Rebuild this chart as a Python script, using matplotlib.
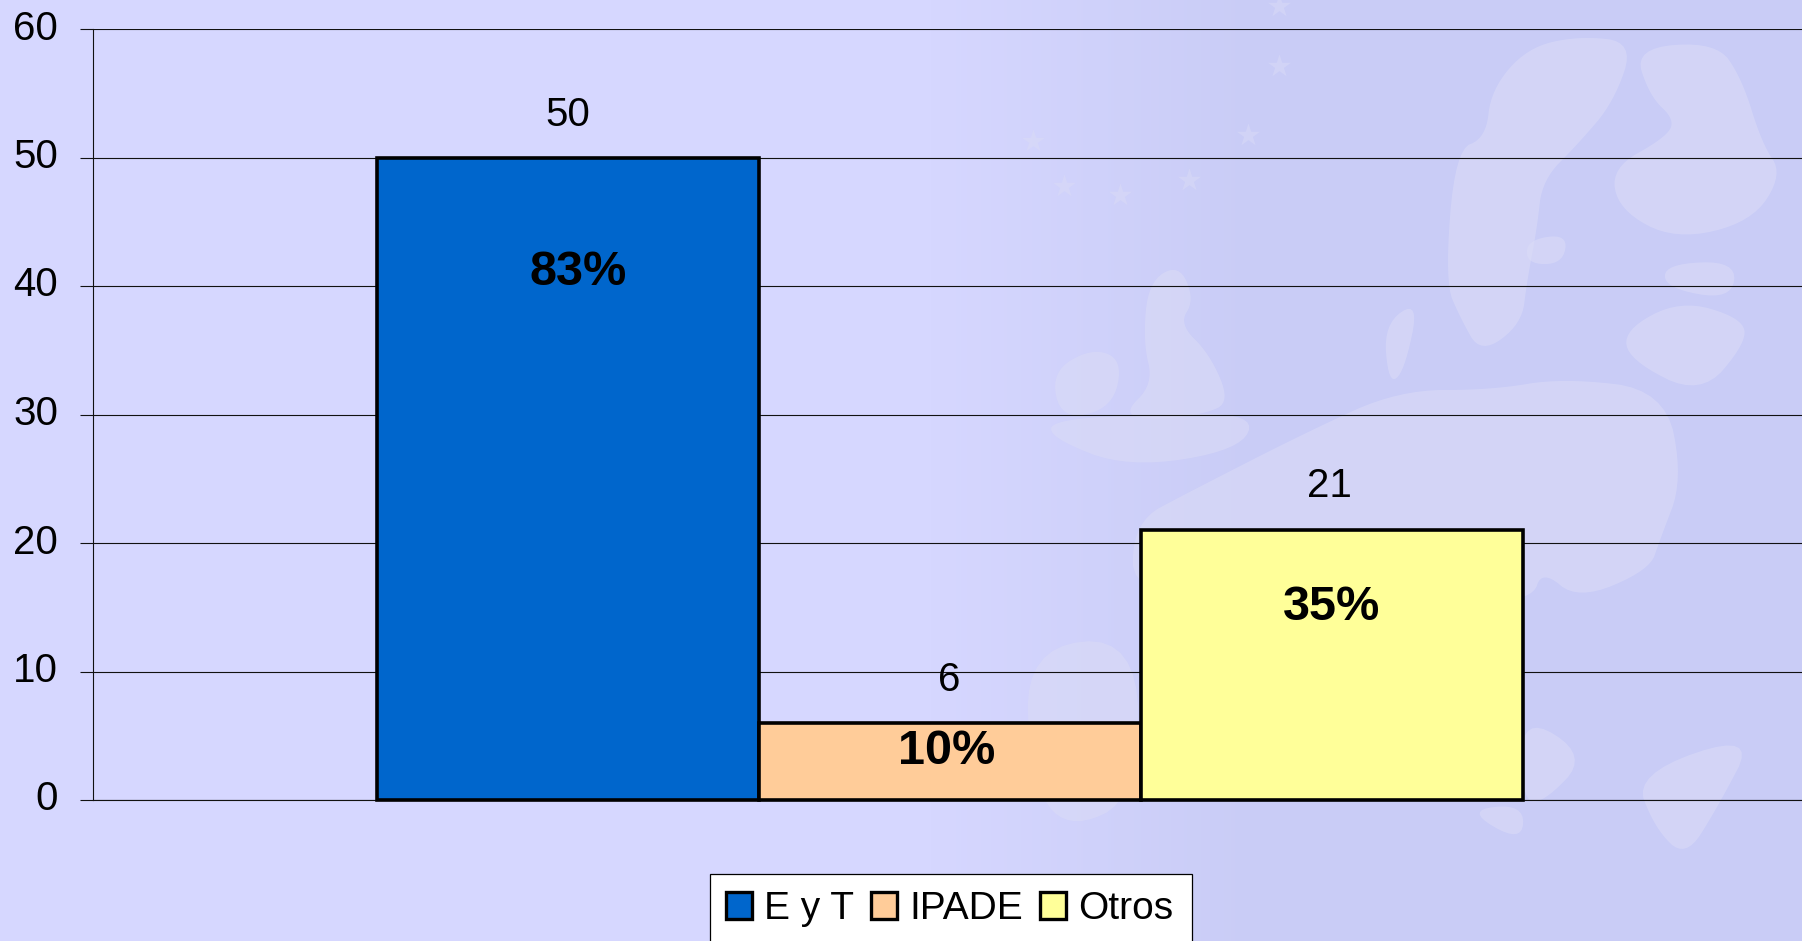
import numpy as np
import matplotlib
matplotlib.use("Agg")
import matplotlib.pyplot as plt
from matplotlib.patches import Rectangle, Patch
from matplotlib.transforms import Affine2D

# chart data
categories = ["E y T", "IPADE", "Otros"]
values = [50, 6, 21]
percents = ["83%", "10%", "35%"]
y_ticks = [0, 10, 20, 30, 40, 50, 60]
bar_colors = ["#0066CC", "#FFCC99", "#FFFF99"]

# label placement in pixels, relative to the top centre of each bar
value_offsets = [(0, 42), (-1, 43), (-3, 44)]
percent_offsets = [(10, -115), (-3, -29), (0, -77)]

land_shapes = [
    [(870, 470), (890, 250), (950, 230), (960, 150), (1030, 80), (1130, 60), (1240, 70), (1200, 170),
     (1130, 240), (1060, 300), (1050, 380), (1030, 470), (1020, 540), (940, 590), (900, 530)],
    [(1240, 80), (1400, 70), (1450, 130), (1490, 240), (1530, 290), (1470, 370), (1320, 400),
     (1210, 350), (1195, 280), (1300, 230), (1320, 200), (1270, 160)],
    [(290, 470), (350, 440), (380, 500), (350, 540), (410, 590), (450, 670), (400, 690), (300, 700),
     (240, 690), (300, 640), (280, 570)],
    [(100, 620), (180, 580), (240, 600), (220, 680), (120, 700)],
    [(100, 700), (300, 690), (500, 690), (470, 750), (250, 780), (100, 730)],
    [(260, 870), (370, 820), (600, 720), (780, 650), (960, 650), (1100, 630), (1300, 650), (1335, 800),
     (1290, 900), (1270, 950), (1130, 1000), (1060, 950), (1040, 1000), (900, 1000), (600, 1000), (260, 1000)],
    [(50, 1080), (270, 1060), (270, 1330), (130, 1385), (60, 1300)],
    [(1020, 1190), (1150, 1260), (1060, 1340), (1020, 1330)],
    [(1240, 1290), (1480, 1220), (1400, 1350), (1340, 1430), (1280, 1380)],
    [(910, 1350), (1025, 1340), (1020, 1405)],
    [(1220, 550), (1330, 500), (1450, 530), (1460, 570), (1370, 660), (1230, 600)],
    [(750, 540), (820, 500), (790, 620), (760, 640)],
    [(1030, 400), (1110, 390), (1100, 440), (1030, 440)],
    [(1300, 440), (1440, 435), (1430, 500), (1300, 480)],
]
star_points = [(545, 10), (545, 110), (485, 225), (125, 310), (235, 325), (370, 300), (65, 235)]


def crop_to_px(points):
    # the big crop came back with different x and y scales
    pts = np.array(points, dtype=float)
    return 1000 + pts[:, 0] * 0.5115, pts[:, 1] * 0.6


def smooth(x, y, rounds=3):
    # corner cutting so the coast looks less angular
    for _ in range(rounds):
        nx, ny = np.roll(x, -1), np.roll(y, -1)
        x = np.column_stack((0.75 * x + 0.25 * nx, 0.25 * x + 0.75 * nx)).ravel()
        y = np.column_stack((0.75 * y + 0.25 * ny, 0.25 * y + 0.75 * ny)).ravel()
    return x, y


plt.rcParams["font.family"] = ["Liberation Sans", "DejaVu Sans"]
W, H = 1802, 941
fig = plt.figure(figsize=(W / 100, H / 100), dpi=100)

# background
bg = fig.add_axes([0, 0, 1, 1])
bg.set_xlim(0, W)
bg.set_ylim(H, 0)
bg.axis("off")
xs = np.arange(W)
left_col, right_col = np.array([214, 215, 255]), np.array([201, 204, 246])
t = np.clip((xs - 930) / 330, 0, 1)
grad = left_col[None, :] * (1 - t[:, None]) + right_col[None, :] * t[:, None]
bg.imshow(grad[None, :, :] / 255, extent=(0, W, H, 0), aspect="auto", zorder=0)
for shape in land_shapes:
    lx, ly = smooth(*crop_to_px(shape))
    bg.fill(lx, ly, color="#DADBF6", alpha=0.6, lw=0, zorder=1)
sx, sy = crop_to_px(star_points)
bg.scatter(sx, sy, marker="*", s=300, color="#DADBF6", alpha=0.5, lw=0, zorder=1)
bg.set_xlim(0, W)
bg.set_ylim(H, 0)

# main axes, the right end runs off the picture like the gridlines do
ax_left, ax_right, ax_top, ax_bottom = 93, 1807, 29, 800
ax = fig.add_axes([ax_left / W, 1 - ax_bottom / H, (ax_right - ax_left) / W, (ax_bottom - ax_top) / H])
ax.patch.set_alpha(0)
bar_px = 382
x_pos = np.arange(len(values))
ax.set_xlim(1 - (950 - ax_left) / bar_px, 1 + (ax_right - 950) / bar_px)
ax.set_ylim(0, 60)

ax.set_axisbelow(True)
ax.yaxis.grid(True, color="#111111", lw=0.8)
ax.xaxis.set_visible(False)
for side in ["top", "right"]:
    ax.spines[side].set_visible(False)
for side in ["left", "bottom"]:
    ax.spines[side].set_linewidth(0.8)
    ax.spines[side].set_color("#111111")
ax.set_yticks(y_ticks)
ax.tick_params(axis="y", length=9.4, width=0.8, color="#111111", pad=15, labelsize=29)
for lab in ax.get_yticklabels():
    lab.set_transform(lab.get_transform() + Affine2D().translate(-1, 4.5))

bars = ax.bar(x_pos, values, width=1.0, color=bar_colors, edgecolor="black", linewidth=2.6, clip_on=False, zorder=3)

for i, v in enumerate(values):
    ax.annotate(str(v), (x_pos[i], v), xytext=value_offsets[i], textcoords="offset pixels",
                ha="center", va="center", fontsize=29, zorder=5)
    ax.annotate(percents[i], (x_pos[i], v), xytext=percent_offsets[i], textcoords="offset pixels",
                ha="center", va="center", fontsize=35, fontweight="bold", zorder=5)

# legend box runs past the bottom edge, so the frame is drawn separately
fig.add_artist(Rectangle((710 / W, 1 - 960 / H), (1192 - 710) / W, (960 - 874) / H,
                         transform=fig.transFigure, facecolor="white", edgecolor="black", lw=0.9, zorder=6))
handles = [Patch(facecolor=c, edgecolor="black", lw=2.4) for c in bar_colors]
leg = fig.legend(handles, categories, ncol=3, frameon=False, fontsize=28,
                 loc="center left", bbox_to_anchor=(726 / W, 1 - 909 / H),
                 borderpad=0, borderaxespad=0, handlelength=0.67, handleheight=0.67,
                 handletextpad=0.30, columnspacing=0.45)
leg.set_zorder(7)

fig.savefig("out.png", dpi=100)
